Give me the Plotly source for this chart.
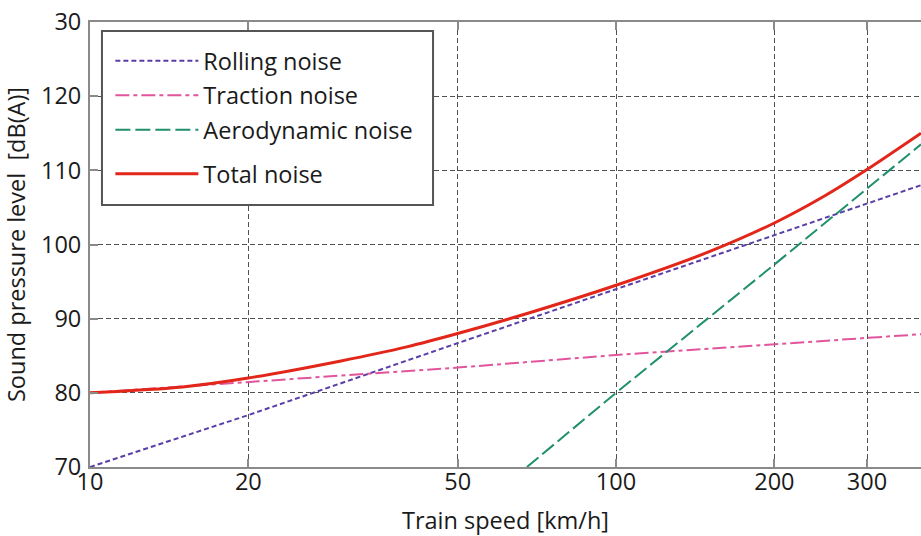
import math
import plotly.graph_objects as go

# Train speed [km/h] at which each curve was sampled, and level in dB(A)
rolling_speed = [10, 20, 50, 100, 200, 300, 380]
rolling_level = [70.0, 77.0, 86.7, 94.0, 101.3, 105.5, 108.0]

traction_speed = [10, 20, 50, 100, 200, 300, 380]
traction_level = [80.0, 81.5, 83.4, 85.1, 86.6, 87.4, 87.9]

aero_speed = [67.7, 100, 200, 300, 380]
aero_level = [70.0, 80.0, 97.3, 107.5, 113.5]

total_speed = [10, 15, 20, 30, 40, 50, 70, 100, 150, 200, 250, 300, 380]
total_level = [80.0, 80.8, 82.0, 84.3, 86.2, 88.0, 91.0, 94.5, 99.0, 102.9, 106.6, 110.1, 115.0]

x_ticks = [10, 20, 50, 100, 200, 300]
x_tick_labels = ["10", "20", "50", "100", "200", "300"]
y_ticks = [70, 80, 90, 100, 110, 120, 130]
y_tick_labels = ["70", "80", "90", "100", "110", "120", "30"]

FONT = "Open Sans"
FONT_SIZE = 23.5
AXIS_GREY = "#8a8a8a"
GRID_GREY = "#505050"

fig = go.Figure()

fig.add_trace(go.Scatter(
    x=rolling_speed, y=rolling_level, mode="lines", name="Rolling noise",
    line=dict(color="#5b3fa8", width=2, dash="5px,3px"),
    legend="legend", legendgroup="rolling",
))
fig.add_trace(go.Scatter(
    x=traction_speed, y=traction_level, mode="lines", name="Traction noise",
    line=dict(color="#e0559c", width=2, dash="14px,4px,4px,4px"),
    legend="legend", legendgroup="traction",
))
fig.add_trace(go.Scatter(
    x=aero_speed, y=aero_level, mode="lines", name="Aerodynamic noise",
    line=dict(color="#1f8f6e", width=2, dash="15px,5px"),
    legend="legend", legendgroup="aero",
))
fig.add_trace(go.Scatter(
    x=total_speed, y=total_level, mode="lines", name="Total noise",
    line=dict(color="#e2261a", width=3, shape="spline", smoothing=0.8),
    legend="legend2", legendgroup="total",
))

# white legend frame drawn over the grid
fig.add_shape(
    type="rect", xref="paper", yref="paper",
    x0=0.0144, x1=0.4128, y0=0.5888, y1=0.9798,
    line=dict(color="#555555", width=2), fillcolor="white", layer="above",
)

legend_common = dict(
    font=dict(family=FONT, size=FONT_SIZE, color="#1a1a1a"),
    bgcolor="rgba(0,0,0,0)", borderwidth=0,
    xanchor="left", yanchor="top", itemwidth=83,
    tracegroupgap=1, traceorder="grouped",
)

fig.update_layout(
    width=921, height=536,
    margin=dict(l=90, r=0, t=22, b=69),
    paper_bgcolor="white", plot_bgcolor="white",
    font=dict(family=FONT, size=FONT_SIZE, color="#1a1a1a"),
    xaxis=dict(
        type="log", range=[1, math.log10(380)],
        tickvals=x_ticks, ticktext=x_tick_labels,
        ticks="inside", ticklen=8, tickwidth=1.5, tickcolor=AXIS_GREY,
        showline=True, linecolor=AXIS_GREY, linewidth=2, mirror="ticks",
        showgrid=True, gridcolor=GRID_GREY, gridwidth=1.4, griddash="5px,3px",
        zeroline=False, ticklabelstandoff=-7,
        title=dict(text="Train speed [km/h]", standoff=18,
                   font=dict(family=FONT, size=FONT_SIZE)),
    ),
    yaxis=dict(
        range=[70, 130],
        tickvals=y_ticks, ticktext=y_tick_labels,
        ticks="inside", ticklen=8, tickwidth=1.5, tickcolor=AXIS_GREY,
        showline=True, linecolor=AXIS_GREY, linewidth=2, mirror=False,
        showgrid=True, gridcolor=GRID_GREY, gridwidth=1.4, griddash="5px,3px",
        zeroline=False, ticklabelstandoff=2,
        title=dict(text="Sound pressure level  [dB(A)]", standoff=9,
                   font=dict(family=FONT, size=FONT_SIZE)),
    ),
    legend=dict(x=0.0245, y=0.962, **legend_common),
    legend2=dict(x=0.0245, y=0.708, **legend_common),
    showlegend=True,
)

fig.write_html("out.html")
